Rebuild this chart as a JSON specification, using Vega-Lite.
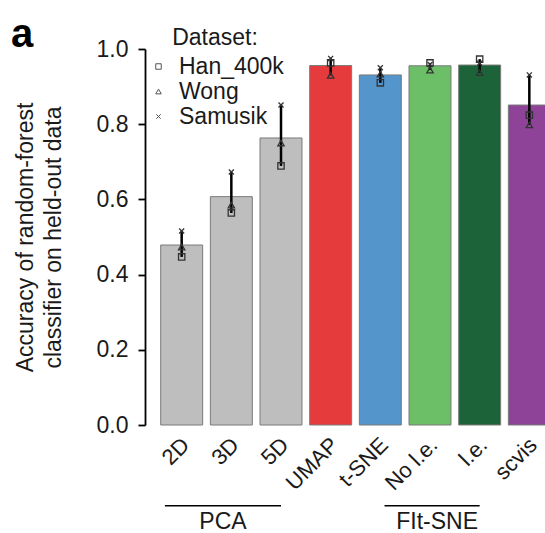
{
  "$schema": "https://vega.github.io/schema/vega-lite/v6.json",
  "autosize": "none",
  "width": 400,
  "height": 376,
  "padding": {"left": 145, "top": 49, "right": 0, "bottom": 108},
  "background": "white",
  "config": {
    "view": {"stroke": null},
    "font": "Liberation Sans",
    "axis": {"labelFont": "Liberation Sans", "titleFont": "Liberation Sans", "labelColor": "#1a1a1a", "titleColor": "#1a1a1a"},
    "legend": {"labelFont": "Liberation Sans", "titleFont": "Liberation Sans"}
  },
  "title": {
    "text": "a",
    "anchor": "start",
    "frame": "group",
    "fontSize": 40,
    "fontWeight": "bold",
    "font": "Liberation Sans",
    "color": "#000",
    "dx": -134,
    "dy": 64,
    "offset": 4,
    "baseline": "alphabetic"
  },
  "datasets": {
    "acc": [
      {"method": "2D", "dataset": "Han_400k", "value": 0.447},
      {"method": "2D", "dataset": "Wong", "value": 0.473},
      {"method": "2D", "dataset": "Samusik", "value": 0.516},
      {"method": "3D", "dataset": "Han_400k", "value": 0.564},
      {"method": "3D", "dataset": "Wong", "value": 0.585},
      {"method": "3D", "dataset": "Samusik", "value": 0.673},
      {"method": "5D", "dataset": "Han_400k", "value": 0.689},
      {"method": "5D", "dataset": "Wong", "value": 0.750},
      {"method": "5D", "dataset": "Samusik", "value": 0.851},
      {"method": "UMAP", "dataset": "Han_400k", "value": 0.963},
      {"method": "UMAP", "dataset": "Wong", "value": 0.930},
      {"method": "UMAP", "dataset": "Samusik", "value": 0.975},
      {"method": "t-SNE", "dataset": "Han_400k", "value": 0.910},
      {"method": "t-SNE", "dataset": "Wong", "value": 0.933},
      {"method": "t-SNE", "dataset": "Samusik", "value": 0.950},
      {"method": "No l.e.", "dataset": "Han_400k", "value": 0.963},
      {"method": "No l.e.", "dataset": "Wong", "value": 0.944},
      {"method": "No l.e.", "dataset": "Samusik", "value": 0.959},
      {"method": "l.e.", "dataset": "Han_400k", "value": 0.973},
      {"method": "l.e.", "dataset": "Wong", "value": 0.937},
      {"method": "l.e.", "dataset": "Samusik", "value": 0.962},
      {"method": "scvis", "dataset": "Han_400k", "value": 0.824},
      {"method": "scvis", "dataset": "Wong", "value": 0.798},
      {"method": "scvis", "dataset": "Samusik", "value": 0.931}
    ],
    "groups": [
      {"group": "PCA", "start": "2D", "end": "5D", "mid": "3D"},
      {"group": "FIt-SNE", "start": "t-SNE", "end": "l.e.", "mid": "No l.e."}
    ]
  },
  "encoding": {
    "x": {
      "field": "method",
      "type": "nominal",
      "sort": ["2D", "3D", "5D", "UMAP", "t-SNE", "No l.e.", "l.e.", "scvis"],
      "scale": {
        "domain": ["2D", "3D", "5D", "UMAP", "t-SNE", "No l.e.", "l.e.", "scvis"],
        "range": [0, 421],
        "paddingInner": 0.155,
        "paddingOuter": 0.316
      },
      "axis": {
        "title": null,
        "domain": false,
        "ticks": false,
        "labelAngle": -45,
        "labelAlign": "right",
        "labelBaseline": "middle",
        "labelPadding": 16,
        "labelOffset": 4,
        "labelFontSize": 22
      }
    }
  },
  "layer": [
    {
      "data": {"name": "acc"},
      "mark": {"type": "bar", "stroke": "#7a7a7a", "strokeWidth": 1},
      "encoding": {
        "y": {
          "aggregate": "mean",
          "field": "value",
          "type": "quantitative",
          "scale": {"domain": [0, 1], "nice": false, "zero": true},
          "axis": {
            "title": ["Accuracy of random-forest", "classifier on held-out data"],
            "titleFontSize": 23,
            "titleFontWeight": "normal",
            "titleLineHeight": 28,
            "titlePadding": 31,
            "values": [0, 0.2, 0.4, 0.6, 0.8, 1.0],
            "format": ".1f",
            "grid": false,
            "labelFontSize": 23,
            "labelPadding": 10,
            "tickSize": 7,
            "tickWidth": 1.8,
            "tickColor": "#000",
            "domainColor": "#000",
            "domainWidth": 1.8
          }
        },
        "color": {
          "field": "method",
          "type": "nominal",
          "legend": null,
          "scale": {
            "domain": ["2D", "3D", "5D", "UMAP", "t-SNE", "No l.e.", "l.e.", "scvis"],
            "range": ["#bebebe", "#bebebe", "#bebebe", "#e63b3d", "#5495cb", "#6cbf67", "#1d6339", "#8e4399"]
          }
        }
      }
    },
    {
      "data": {"name": "acc"},
      "mark": {"type": "rule", "color": "#000", "strokeWidth": 2.5},
      "encoding": {
        "y": {"aggregate": "min", "field": "value", "type": "quantitative"},
        "y2": {"aggregate": "max", "field": "value"}
      }
    },
    {
      "data": {"name": "acc"},
      "mark": {"type": "point", "filled": false, "strokeWidth": 1.3, "size": 40, "opacity": 1},
      "encoding": {
        "y": {"field": "value", "type": "quantitative"},
        "shape": {
          "field": "dataset",
          "type": "nominal",
          "scale": {
            "domain": ["Han_400k", "Wong", "Samusik"],
            "range": ["square", "triangle-up", "M-0.8,-0.8L0.8,0.8M0.8,-0.8L-0.8,0.8"]
          },
          "legend": {
            "title": "Dataset:",
            "orient": "none",
            "legendX": 2,
            "legendY": -22,
            "titleFontSize": 23,
            "titleFontWeight": "normal",
            "titleColor": "#1a1a1a",
            "titleAnchor": "middle",
            "titlePadding": 5,
            "labelFontSize": 23,
            "labelColor": "#1a1a1a",
            "symbolSize": 30,
            "symbolStrokeColor": "#555",
            "symbolStrokeWidth": 1,
            "symbolFillColor": "transparent",
            "rowPadding": 1,
            "labelOffset": 9
          }
        },
        "color": {"value": "#333333"}
      }
    },
    {
      "data": {"name": "groups"},
      "transform": [{"filter": "datum.group === 'PCA'"}],
      "layer": [
        {
          "mark": {"type": "rule", "color": "#000", "strokeWidth": 1.5},
          "encoding": {
            "x": {"field": "start", "type": "nominal", "bandPosition": 0.1},
            "x2": {"field": "end"},
            "y": {"datum": -0.2146}
          }
        },
        {
          "mark": {"type": "text", "fontSize": 23, "color": "#1a1a1a", "baseline": "alphabetic", "align": "center"},
          "encoding": {
            "x": {"field": "mid", "type": "nominal", "bandPosition": 0.3},
            "y": {"datum": -0.2766},
            "text": {"field": "group"}
          }
        }
      ]
    },
    {
      "data": {"name": "groups"},
      "transform": [{"filter": "datum.group === 'FIt-SNE'"}],
      "layer": [
        {
          "mark": {"type": "rule", "color": "#000", "strokeWidth": 1.5},
          "encoding": {
            "x": {"field": "start", "type": "nominal", "bandPosition": 0.6},
            "x2": {"field": "end"},
            "y": {"datum": -0.2146}
          }
        },
        {
          "mark": {"type": "text", "fontSize": 23, "color": "#1a1a1a", "baseline": "alphabetic", "align": "center"},
          "encoding": {
            "x": {"field": "mid", "type": "nominal", "bandPosition": 0.67},
            "y": {"datum": -0.2766},
            "text": {"field": "group"}
          }
        }
      ]
    }
  ]
}
